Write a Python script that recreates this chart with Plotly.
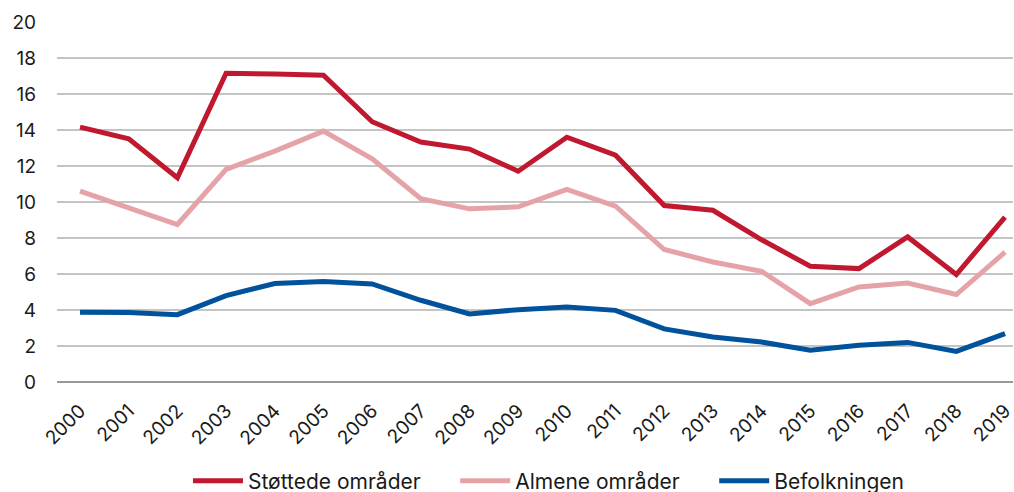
import plotly.graph_objects as go

years = list(range(2000, 2020))
stottede = [14.16, 13.51, 11.35, 17.15, 17.11, 17.04, 14.46, 13.33, 12.94, 11.71,
            13.6, 12.6, 9.8, 9.54, 7.9, 6.43, 6.3, 8.06, 5.97, 9.16]
almene = [10.6, 9.68, 8.75, 11.81, 12.83, 13.94, 12.4, 10.18, 9.62, 9.73,
          10.7, 9.77, 7.36, 6.67, 6.15, 4.35, 5.28, 5.5, 4.86, 7.21]
befolkningen = [3.87, 3.86, 3.74, 4.8, 5.47, 5.58, 5.45, 4.54, 3.78, 4.02,
                4.17, 3.98, 2.95, 2.5, 2.22, 1.76, 2.04, 2.2, 1.7, 2.69]
series_names = ["Støttede områder", "Almene områder", "Befolkningen"]
colors = ["#C0182E", "#E5A3A8", "#00529C"]
y_ticks = [0, 2, 4, 6, 8, 10, 12, 14, 16, 18, 20]

pad = "\u00a0" * 5
fig = go.Figure()
for i, (name, vals, col) in enumerate(zip(series_names, [stottede, almene, befolkningen], colors)):
    label = name + (pad if i < len(series_names) - 1 else "")
    fig.add_trace(go.Scatter(x=years, y=vals, mode="lines", name=label,
                             line=dict(color=col, width=5)))

fig.update_layout(
    width=1014, height=492,
    margin=dict(l=57, r=1, t=22, b=110, autoexpand=False),
    paper_bgcolor="white", plot_bgcolor="white",
    font=dict(family="Inter", size=19, color="#1a1a1a"),
    showlegend=True,
    legend=dict(orientation="h", x=0.137, xanchor="left", y=-0.275, yanchor="middle",
                font=dict(size=21, color="#1a1a1a"), itemwidth=50),
    xaxis=dict(range=[1999.527, 2019.164], tickvals=years, ticktext=[str(y) for y in years],
               tickangle=-45, showgrid=False, zeroline=False, showline=False,
               ticks="", tickfont=dict(size=19), ticklabelstandoff=13, automargin=False,
               ticklabeloverflow="allow"),
    yaxis=dict(range=[0, 20], tickvals=y_ticks, showgrid=True, gridcolor="#C4C4C4",
               gridwidth=1.5, zeroline=True, zerolinecolor="#999999", zerolinewidth=1.5,
               showline=False, ticks="", tickfont=dict(size=19), ticklabelstandoff=20,
               automargin=False),
)

fig.write_html("out.html", config={"displayModeBar": False},
               post_script="document.body.style.margin='0';document.body.style.overflow='hidden';")
